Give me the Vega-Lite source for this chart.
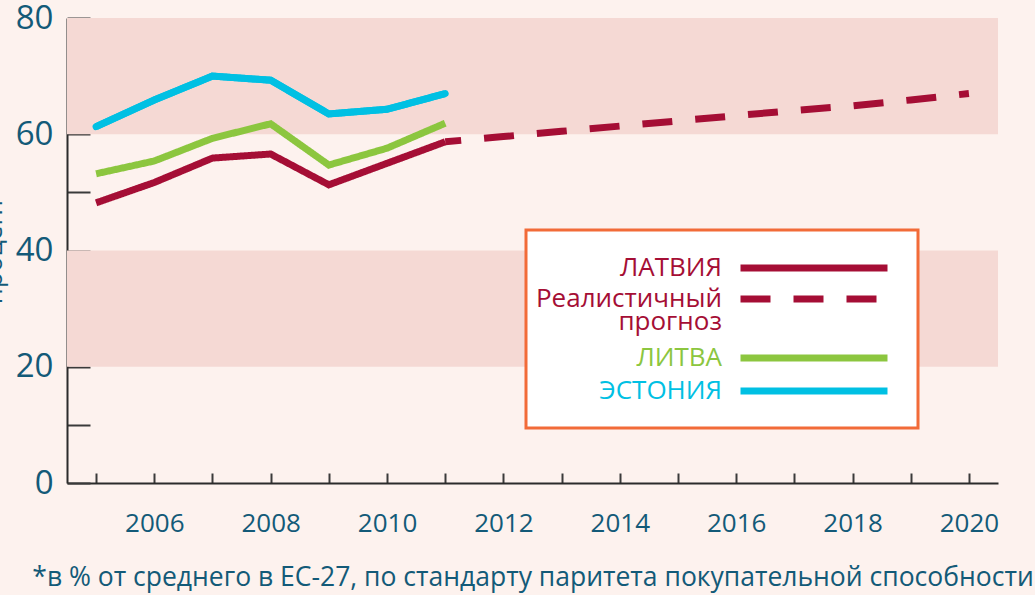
{
  "$schema": "https://vega.github.io/schema/vega-lite/v6.json",
  "width": 931,
  "height": 465,
  "autosize": {"type": "none"},
  "padding": {"left": 67, "top": 18, "right": 37, "bottom": 112},
  "background": "#fdf2ee",
  "config": {
    "view": {"stroke": null},
    "font": "Open Sans",
    "legend": {
      "orient": "none",
      "legendX": 459,
      "legendY": 212,
      "titleOrient": "right",
      "titleFontSize": 1,
      "titlePadding": 9,
      "symbolType": "stroke",
      "symbolSize": 21609,
      "symbolStrokeWidth": 7,
      "symbolOffset": 204,
      "labelOffset": -169,
      "labelAlign": "right",
      "labelFontSize": 26,
      "labelLimit": 500,
      "labelFont": "Open Sans",
      "padding": 7,
      "rowPadding": 0,
      "fillColor": "#ffffff",
      "strokeColor": "#f26b38",
      "strokeWidth": 3
    }
  },
  "datasets": {
    "bands": [{"y1": 20, "y2": 40}, {"y1": 60, "y2": 80}],
    "series": [
      {"series": "ЛАТВИЯ", "year": 2005, "value": 48.2},
      {"series": "ЛАТВИЯ", "year": 2006, "value": 51.7},
      {"series": "ЛАТВИЯ", "year": 2007, "value": 55.9},
      {"series": "ЛАТВИЯ", "year": 2008, "value": 56.6},
      {"series": "ЛАТВИЯ", "year": 2009, "value": 51.3},
      {"series": "ЛАТВИЯ", "year": 2010, "value": 55.0},
      {"series": "ЛАТВИЯ", "year": 2011, "value": 58.7},
      {"series": "Реалистичный прогноз", "year": 2011, "value": 58.7},
      {"series": "Реалистичный прогноз", "year": 2012, "value": 59.6},
      {"series": "Реалистичный прогноз", "year": 2013, "value": 60.5},
      {"series": "Реалистичный прогноз", "year": 2014, "value": 61.4},
      {"series": "Реалистичный прогноз", "year": 2015, "value": 62.3},
      {"series": "Реалистичный прогноз", "year": 2016, "value": 63.2},
      {"series": "Реалистичный прогноз", "year": 2017, "value": 64.1},
      {"series": "Реалистичный прогноз", "year": 2018, "value": 64.9},
      {"series": "Реалистичный прогноз", "year": 2019, "value": 65.9},
      {"series": "Реалистичный прогноз", "year": 2020, "value": 67.0},
      {"series": "ЛИТВА", "year": 2005, "value": 53.2},
      {"series": "ЛИТВА", "year": 2006, "value": 55.4},
      {"series": "ЛИТВА", "year": 2007, "value": 59.3},
      {"series": "ЛИТВА", "year": 2008, "value": 61.8},
      {"series": "ЛИТВА", "year": 2009, "value": 54.7},
      {"series": "ЛИТВА", "year": 2010, "value": 57.6},
      {"series": "ЛИТВА", "year": 2011, "value": 61.9},
      {"series": "ЭСТОНИЯ", "year": 2005, "value": 61.3},
      {"series": "ЭСТОНИЯ", "year": 2006, "value": 65.9},
      {"series": "ЭСТОНИЯ", "year": 2007, "value": 70.0},
      {"series": "ЭСТОНИЯ", "year": 2008, "value": 69.3},
      {"series": "ЭСТОНИЯ", "year": 2009, "value": 63.5},
      {"series": "ЭСТОНИЯ", "year": 2010, "value": 64.3},
      {"series": "ЭСТОНИЯ", "year": 2011, "value": 67.0}
    ]
  },
  "layer": [
    {
      "data": {"name": "bands"},
      "mark": {"type": "rect", "color": "#f5d9d4"},
      "encoding": {
        "y": {"field": "y1", "type": "quantitative", "scale": {"domain": [0, 80], "nice": false}},
        "y2": {"field": "y2"}
      }
    },
    {
      "data": {"name": "series"},
      "mark": {"type": "line", "strokeWidth": 7, "strokeCap": "butt", "strokeDashOffset": 14},
      "encoding": {
        "x": {
          "field": "year",
          "type": "quantitative",
          "scale": {"domain": [2004.5, 2020.5], "nice": false, "zero": false},
          "axis": {
            "values": [2005, 2006, 2007, 2008, 2009, 2010, 2011, 2012, 2013, 2014, 2015, 2016, 2017, 2018, 2019, 2020],
            "format": "d",
            "labelExpr": "datum.value % 2 === 0 ? datum.label : ''",
            "grid": false,
            "domainColor": "#2b2b2b",
            "domainWidth": 2,
            "tickColor": "#3a3a3a",
            "tickWidth": 2,
            "tickSize": -10,
            "labelPadding": 37,
            "labelFontSize": 26,
            "labelColor": "#135a78",
            "labelFont": "Open Sans",
            "title": "*в % от среднего в ЕС-27, по стандарту паритета покупательной способности",
            "titleFont": "Open Sans",
            "titleFontSize": 26.5,
            "titleFontWeight": "normal",
            "titleColor": "#135a78",
            "titlePadding": 28
          }
        },
        "y": {
          "field": "value",
          "type": "quantitative",
          "scale": {"domain": [0, 80], "nice": false},
          "axis": {
            "values": [0, 10, 20, 30, 40, 50, 60, 70, 80],
            "labelExpr": "datum.value % 20 === 0 ? datum.label : ''",
            "grid": false,
            "domainColor": "#2b2b2b",
            "domainWidth": 2,
            "tickColor": "#3a3a3a",
            "tickWidth": 2,
            "tickSize": -23,
            "labelPadding": 37,
            "labelFontSize": 33,
            "labelColor": "#135a78",
            "labelFont": "Open Sans",
            "title": "процент",
            "titleFont": "Open Sans",
            "titleFontSize": 26,
            "titleFontWeight": "normal",
            "titleColor": "#135a78",
            "titleX": -66,
            "titleY": 232,
            "titleAngle": -90,
            "titleBaseline": "alphabetic",
            "titleAlign": "center"
          }
        },
        "color": {
          "field": "series",
          "type": "nominal",
          "scale": {
            "domain": ["ЛАТВИЯ", "Реалистичный прогноз", "ЛИТВА", "ЭСТОНИЯ"],
            "range": ["#a50e35", "#a50e35", "#8cc63f", "#00c0e3"]
          },
          "legend": {
            "title": "\u00a0",
            "labelExpr": "datum.value === 'Реалистичный прогноз' ? ['Реалистичный', 'прогноз'] : (datum.value === 'ЭСТОНИЯ' ? ['ЭСТОНИЯ', ' '] : datum.label)",
            "encode": {
              "symbols": {
                "update": {
                  "y": {"signal": "[31, 17, 23, 19][datum.index]"}
                }
              },
              "labels": {
                "update": {
                  "fill": {"scale": "color", "field": "value"},
                  "y": {"signal": "[31, 17, 23, 19][datum.index]"},
                  "lineHeight": {"signal": "datum.index === 3 ? 17 : 23"}
                }
              }
            }
          }
        },
        "strokeDash": {
          "field": "series",
          "type": "nominal",
          "scale": {
            "domain": ["ЛАТВИЯ", "Реалистичный прогноз", "ЛИТВА", "ЭСТОНИЯ"],
            "range": [[1, 0], [30, 23], [1, 0], [1, 0]]
          },
          "legend": {"title": "\u00a0"}
        }
      }
    },
    {
      "data": {"name": "series"},
      "transform": [{"filter": "datum.series === 'ЭСТОНИЯ'"}],
      "mark": {"type": "line", "strokeWidth": 7, "strokeCap": "round", "color": "#00c0e3"},
      "encoding": {
        "x": {"field": "year", "type": "quantitative"},
        "y": {"field": "value", "type": "quantitative"}
      }
    }
  ]
}
